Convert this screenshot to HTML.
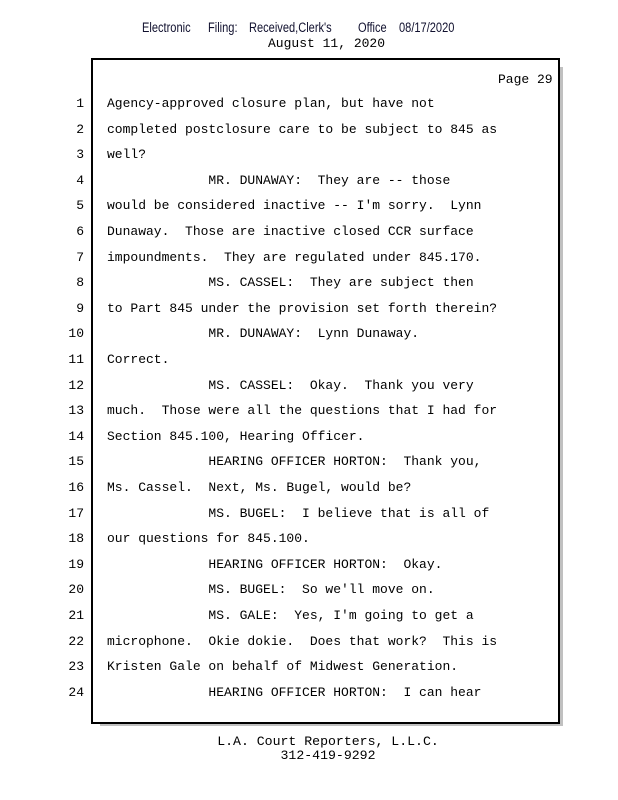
<!DOCTYPE html>
<html>
<head>
<meta charset="utf-8">
<style>
  html, body { margin:0; padding:0; background:#fff; }
  body { width:618px; height:800px; position:relative; overflow:hidden; }
  .sans { position:absolute; font-family:"Liberation Sans", Arial, sans-serif; font-size:13.5px; color:#10102e; top:20px; line-height:16px; transform-origin:left center; transform:scaleX(0.82); white-space:pre; }
  .mono { font-family:"Liberation Mono", "Courier New", monospace; font-size:13px; color:#000; white-space:pre; }
  .box { position:absolute; left:91px; top:58px; width:465px; height:662px; border:2px solid #000; background:#fff; }
  .shadow-r { position:absolute; left:559px; top:67px; width:4px; height:658px; background:#c0c0c0; }
  .shadow-b { position:absolute; left:100px; top:722px; width:463px; height:4px; background:#c0c0c0; }
  .ln { position:absolute; width:40px; left:44px; text-align:right; line-height:26px; }
  .tx { position:absolute; left:107px; line-height:26px; }
</style>
</head>
<body>
<div class="sans" style="left:142px">Electronic</div>
<div class="sans" style="left:208px">Filing:</div>
<div class="sans" style="left:249px">Received,Clerk's</div>
<div class="sans" style="left:358px">Office</div>
<div class="sans" style="left:399px">08/17/2020</div>
<div class="mono" style="position:absolute; left:268px; top:36px; line-height:16px;">August 11, 2020</div>

<div class="shadow-r"></div>
<div class="shadow-b"></div>
<div class="box"></div>

<div class="mono" style="position:absolute; left:498px; top:72px; line-height:16px;">Page 29</div>

<div class="mono ln" style="top:91px">1</div>
<div class="mono ln" style="top:116.6px">2</div>
<div class="mono ln" style="top:142.2px">3</div>
<div class="mono ln" style="top:167.8px">4</div>
<div class="mono ln" style="top:193.4px">5</div>
<div class="mono ln" style="top:219px">6</div>
<div class="mono ln" style="top:244.6px">7</div>
<div class="mono ln" style="top:270.2px">8</div>
<div class="mono ln" style="top:295.8px">9</div>
<div class="mono ln" style="top:321.4px">10</div>
<div class="mono ln" style="top:347px">11</div>
<div class="mono ln" style="top:372.6px">12</div>
<div class="mono ln" style="top:398.2px">13</div>
<div class="mono ln" style="top:423.8px">14</div>
<div class="mono ln" style="top:449.4px">15</div>
<div class="mono ln" style="top:475px">16</div>
<div class="mono ln" style="top:500.6px">17</div>
<div class="mono ln" style="top:526.2px">18</div>
<div class="mono ln" style="top:551.8px">19</div>
<div class="mono ln" style="top:577.4px">20</div>
<div class="mono ln" style="top:603px">21</div>
<div class="mono ln" style="top:628.6px">22</div>
<div class="mono ln" style="top:654.2px">23</div>
<div class="mono ln" style="top:679.8px">24</div>

<div class="mono tx" style="top:91px">Agency-approved closure plan, but have not</div>
<div class="mono tx" style="top:116.6px">completed postclosure care to be subject to 845 as</div>
<div class="mono tx" style="top:142.2px">well?</div>
<div class="mono tx" style="top:167.8px">             MR. DUNAWAY:  They are -- those</div>
<div class="mono tx" style="top:193.4px">would be considered inactive -- I'm sorry.  Lynn</div>
<div class="mono tx" style="top:219px">Dunaway.  Those are inactive closed CCR surface</div>
<div class="mono tx" style="top:244.6px">impoundments.  They are regulated under 845.170.</div>
<div class="mono tx" style="top:270.2px">             MS. CASSEL:  They are subject then</div>
<div class="mono tx" style="top:295.8px">to Part 845 under the provision set forth therein?</div>
<div class="mono tx" style="top:321.4px">             MR. DUNAWAY:  Lynn Dunaway.</div>
<div class="mono tx" style="top:347px">Correct.</div>
<div class="mono tx" style="top:372.6px">             MS. CASSEL:  Okay.  Thank you very</div>
<div class="mono tx" style="top:398.2px">much.  Those were all the questions that I had for</div>
<div class="mono tx" style="top:423.8px">Section 845.100, Hearing Officer.</div>
<div class="mono tx" style="top:449.4px">             HEARING OFFICER HORTON:  Thank you,</div>
<div class="mono tx" style="top:475px">Ms. Cassel.  Next, Ms. Bugel, would be?</div>
<div class="mono tx" style="top:500.6px">             MS. BUGEL:  I believe that is all of</div>
<div class="mono tx" style="top:526.2px">our questions for 845.100.</div>
<div class="mono tx" style="top:551.8px">             HEARING OFFICER HORTON:  Okay.</div>
<div class="mono tx" style="top:577.4px">             MS. BUGEL:  So we'll move on.</div>
<div class="mono tx" style="top:603px">             MS. GALE:  Yes, I'm going to get a</div>
<div class="mono tx" style="top:628.6px">microphone.  Okie dokie.  Does that work?  This is</div>
<div class="mono tx" style="top:654.2px">Kristen Gale on behalf of Midwest Generation.</div>
<div class="mono tx" style="top:679.8px">             HEARING OFFICER HORTON:  I can hear</div>

<div class="mono" style="position:absolute; left:0; width:656px; text-align:center; top:735px; line-height:14px; font-size:13.2px;">L.A. Court Reporters, L.L.C.<br>312-419-9292</div>
</body>
</html>
